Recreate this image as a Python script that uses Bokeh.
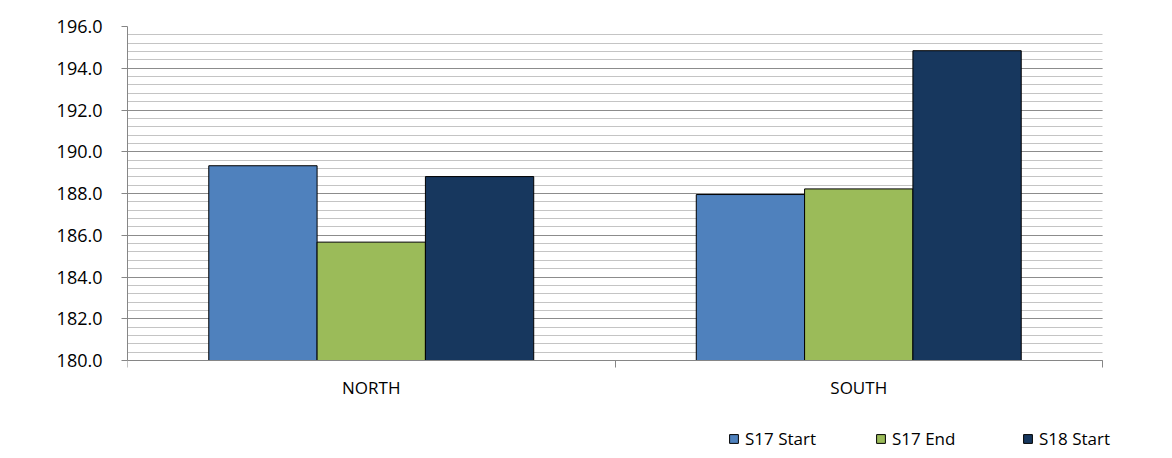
from bokeh.plotting import figure
from bokeh.models import (ColumnDataSource, FixedTicker, NumeralTickFormatter, Range1d,
                          Legend, LegendItem, LinearAxis, BoxAnnotation)
from bokeh.transform import dodge
from bokeh.embed import file_html
from bokeh.resources import INLINE

categories = ["NORTH", "SOUTH"]
series_names = ["S17 Start", "S17 End", "S18 Start"]
s17_start = [189.33, 187.95]
s17_end = [185.67, 188.22]
s18_start = [188.81, 194.84]
colors = ["#4f81bd", "#9bbb59", "#17375e"]
y_ticks = [180, 182, 184, 186, 188, 190, 192, 194, 196]

FONT = "Open Sans"
W, H = 1164, 450
LEFT, TOP, AXIS_Y, RIGHT = 127, 26, 360, 1102
Y_MIN, Y_MAX = 180, 196
N = len(categories)
# frame extends below / right of the value area so the legend can sit inside it
px_per_unit = (AXIS_Y - TOP) / (Y_MAX - Y_MIN)
px_per_cat = (RIGHT - LEFT) / N
y_start = Y_MIN - (H - AXIS_Y) / px_per_unit
x_end = N + (W - RIGHT) / px_per_cat

src = ColumnDataSource(dict(
    x=[i + 0.5 for i in range(N)],
    s17_start=s17_start, s17_end=s17_end, s18_start=s18_start,
))

p = figure(width=W, height=H, output_backend="svg", toolbar_location=None,
           x_range=Range1d(0, x_end), y_range=Range1d(y_start, Y_MAX),
           x_axis_location=None,
           min_border_left=LEFT, min_border_top=TOP, min_border_right=0, min_border_bottom=0)
p.outline_line_color = None
p.background_fill_color = "white"
p.border_fill_color = "white"

# grid
minor = [round(Y_MIN + 0.4 * i, 1) for i in range(41)]
p.xgrid.visible = False
p.ygrid.ticker = FixedTicker(ticks=y_ticks, minor_ticks=minor)
p.ygrid.grid_line_color = "#8c8c8c"
p.ygrid.grid_line_width = 1
p.ygrid.minor_grid_line_color = "#c4c4c4"
p.ygrid.minor_grid_line_width = 1
try:
    p.ygrid.cross_bounds = (0, N)
except Exception:
    p.add_layout(BoxAnnotation(left=N, fill_color="white", fill_alpha=1,
                               line_color=None, level="glyph"))

w = 0.2222
cols = ["s17_start", "s17_end", "s18_start"]
offs = [-w, 0, w]
renderers = []
for c, off, col in zip(cols, offs, colors):
    r = p.vbar(x=dodge("x", off), top=c, bottom=Y_MIN, width=w, source=src,
               fill_color=col, line_color="black", line_width=1)
    renderers.append(r)

# y axis
p.yaxis.ticker = FixedTicker(ticks=y_ticks, minor_ticks=minor)
p.yaxis.bounds = (Y_MIN, Y_MAX)
p.yaxis.formatter = NumeralTickFormatter(format="0.0")
p.yaxis.major_tick_out = 6
p.yaxis.major_tick_in = 0
p.yaxis.minor_tick_line_color = None
p.yaxis.axis_line_color = "#868686"
p.yaxis.major_tick_line_color = "#868686"
p.yaxis.major_label_text_font = FONT
p.yaxis.major_label_text_font_size = "18px"
p.yaxis.major_label_text_color = "black"
p.yaxis.major_label_standoff = 19

# x axis at y = 180
centers = [i + 0.5 for i in range(N)]
bounds = [i for i in range(N + 1)]
xaxis = LinearAxis(fixed_location=Y_MIN, bounds=(0, N),
                   ticker=FixedTicker(ticks=centers, minor_ticks=bounds),
                   major_label_overrides={c: n for c, n in zip(centers, categories)},
                   major_tick_line_color=None, minor_tick_out=7, minor_tick_in=0,
                   minor_tick_line_color="#868686", axis_line_color="#868686",
                   major_label_text_font=FONT, major_label_text_font_size="17px",
                   major_label_text_color="black", major_label_standoff=8)
p.add_layout(xaxis, "below")

# legend, items equally spaced as in the reference
legend = Legend(items=[LegendItem(label=n, renderers=[r]) for n, r in zip(series_names, renderers)],
                location=(728 - LEFT, 0), orientation="horizontal",
                padding=0, margin=0, spacing=0, border_line_color=None, background_fill_alpha=0,
                glyph_width=11, glyph_height=11, label_standoff=6, label_width=130,
                label_text_font=FONT, label_text_font_size="17px", label_text_color="black")
p.add_layout(legend, "center")

open("out.html", "w").write(file_html(p, INLINE))
